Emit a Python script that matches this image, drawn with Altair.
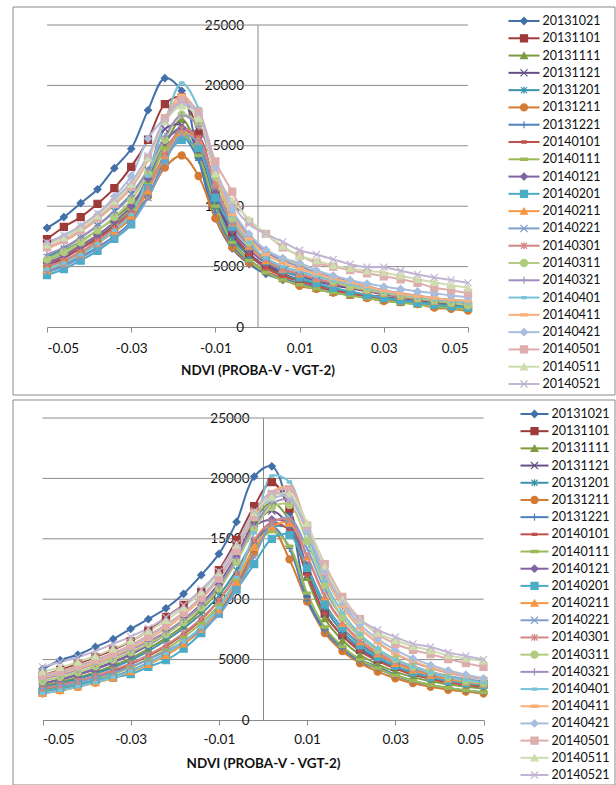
import altair as alt
import pandas as pd

FONT = "Lato"
GRAY = "#8a8a8a"
TXT = "#111111"

ndvi = [-0.05, -0.046, -0.042, -0.038, -0.034, -0.03, -0.026, -0.022, -0.018, -0.014,
        -0.01, -0.006, -0.002, 0.002, 0.006, 0.01, 0.014, 0.018, 0.022, 0.026,
        0.03, 0.034, 0.038, 0.042, 0.046, 0.05]
x_ticks = [-0.05, -0.03, -0.01, 0.01, 0.03, 0.05]
y_ticks = [0, 5000, 10000, 15000, 20000, 25000]
grid_vals = [5000, 10000, 15000, 20000, 25000]

dates = ["20131021", "20131101", "20131111", "20131121", "20131201", "20131211",
         "20131221", "20140101", "20140111", "20140121", "20140201", "20140211",
         "20140221", "20140301", "20140311", "20140321", "20140401", "20140411",
         "20140421", "20140501", "20140511", "20140521"]

# ---- top panel ----
top_20131021 = [8200, 9100, 10250, 11400, 13150, 14750, 17950, 20600, 19550, 14000, 9000, 6500, 5200, 4400, 3900, 3500, 3150, 2850, 2650, 2450, 2300, 2100, 1950, 1800, 1700, 1600]
top_20131101 = [7280, 8280, 9100, 10200, 11500, 13250, 15500, 18450, 19000, 16000, 11000, 7800, 6100, 5000, 4400, 3900, 3450, 3100, 2850, 2650, 2500, 2300, 2150, 2000, 1850, 1750]
top_20131111 = [5600, 6300, 7100, 8000, 9000, 10200, 12000, 15000, 17200, 14500, 10000, 7100, 5600, 4600, 4000, 3600, 3200, 2900, 2650, 2450, 2250, 2050, 1900, 1750, 1650, 1550]
top_20131121 = [5000, 5700, 6500, 7400, 8500, 9800, 12500, 16400, 16700, 14500, 10500, 7600, 6000, 5100, 4600, 4200, 3800, 3450, 3200, 2950, 2700, 2500, 2300, 2150, 2000, 1900]
top_20131201 = [5800, 6500, 7400, 8400, 9600, 11000, 13000, 15500, 16200, 14000, 10000, 7300, 5900, 4900, 4300, 3900, 3500, 3150, 2900, 2650, 2450, 2250, 2100, 1950, 1800, 1700]
top_20131211 = [5000, 5500, 6200, 7000, 7900, 9000, 10800, 13200, 14200, 12500, 9000, 6600, 5300, 4600, 4000, 3400, 3150, 2850, 2650, 2400, 2150, 2050, 1900, 1600, 1500, 1350]
top_20131221 = [4600, 5100, 5800, 6600, 7500, 8700, 10800, 13800, 15800, 13800, 9500, 6800, 5400, 4500, 4000, 3600, 3250, 2950, 2700, 2500, 2300, 2100, 1950, 1800, 1700, 1650]
top_20140101 = [5200, 5800, 6500, 7300, 8300, 9500, 11500, 14300, 16300, 15800, 11500, 8000, 6000, 4900, 4200, 3800, 3400, 3050, 2800, 2550, 2350, 2150, 2000, 1850, 1700, 1600]
top_20140111 = [5500, 6100, 6800, 7600, 8600, 9800, 11800, 14800, 16000, 14200, 10000, 7000, 5500, 4500, 3900, 3500, 3150, 2850, 2600, 2400, 2200, 2000, 1850, 1700, 1550, 1450]
top_20140121 = [5300, 5900, 6700, 7600, 8700, 10000, 12300, 15300, 16500, 15000, 11000, 8000, 6400, 5300, 4700, 4300, 3900, 3550, 3300, 3000, 2750, 2550, 2400, 2200, 2050, 1950]
top_20140201 = [4300, 4800, 5500, 6300, 7300, 8500, 11500, 13900, 15500, 14800, 10700, 8300, 6700, 5500, 4700, 4100, 3650, 3250, 2950, 2650, 2400, 2200, 2000, 1850, 1700, 1600]
top_20140211 = [4700, 5300, 6000, 6900, 7900, 9200, 11300, 14200, 16100, 15400, 11800, 8600, 6700, 5500, 4800, 4400, 4000, 3650, 3350, 3050, 2800, 2550, 2350, 2150, 2000, 1850]
top_20140221 = [4500, 5000, 5700, 6500, 7400, 8600, 10700, 13600, 15900, 15300, 11500, 8500, 6800, 5700, 5000, 4600, 4200, 3850, 3550, 3250, 3000, 2800, 2600, 2400, 2250, 2150]
top_20140301 = [5000, 5500, 6200, 7100, 8100, 9400, 11500, 14300, 16400, 15600, 11800, 8700, 6800, 5600, 4800, 4400, 4000, 3650, 3350, 3050, 2800, 2550, 2350, 2150, 2000, 1900]
top_20140311 = [5600, 6200, 7000, 8000, 9100, 10500, 12700, 15500, 17600, 16800, 12500, 9000, 7000, 6200, 5600, 5200, 4400, 3800, 3350, 3100, 2850, 2600, 2400, 2200, 2000, 1800]
top_20140321 = [6000, 6600, 7400, 8400, 9500, 10900, 13000, 15800, 17500, 16600, 12800, 9500, 7500, 6200, 5500, 5000, 4500, 4100, 3750, 3400, 3050, 2800, 2550, 2350, 2200, 2100]
top_20140401 = [4800, 5300, 6000, 6900, 8000, 9300, 12500, 17000, 20200, 18100, 13000, 9200, 7000, 5700, 5000, 4600, 4200, 3850, 3550, 3250, 2900, 2700, 2500, 2300, 2150, 2000]
top_20140411 = [6500, 7100, 7900, 8900, 10100, 11500, 13800, 17200, 19200, 17500, 12800, 9300, 7300, 6000, 5300, 4800, 4400, 4000, 3700, 3350, 3000, 2750, 2550, 2400, 2250, 2150]
top_20140421 = [6900, 7500, 8300, 9300, 10800, 12500, 15600, 17300, 18500, 17600, 13200, 9700, 7700, 6400, 5700, 5300, 4700, 4250, 3900, 3600, 3350, 3150, 2950, 2800, 2600, 2450]
top_20140501 = [6600, 7200, 8000, 9000, 10200, 11600, 14000, 17300, 18800, 17800, 13700, 11200, 8700, 7700, 6600, 5900, 5300, 5000, 4700, 4450, 4200, 3950, 3650, 3250, 3050, 2800]
top_20140511 = [6800, 7400, 8200, 9200, 10400, 11800, 14000, 17000, 18300, 17300, 12700, 10500, 8900, 7700, 6700, 5900, 5500, 5100, 4850, 4650, 4500, 4250, 3950, 3700, 3450, 3250]
top_20140521 = [7000, 7600, 8400, 9400, 10600, 12000, 14200, 17100, 18600, 17600, 13000, 10200, 8500, 7700, 7050, 6350, 6000, 5600, 5200, 4950, 4950, 4650, 4350, 4100, 3900, 3650]

# ---- bottom panel ----
bot_20131021 = [4200, 4950, 5400, 6050, 6700, 7550, 8350, 9250, 10450, 12000, 13750, 16400, 20150, 21000, 17200, 10200, 7500, 6000, 5000, 4400, 3750, 3250, 2900, 2600, 2400, 2200]
bot_20131101 = [3700, 4150, 4650, 5200, 5800, 6500, 7400, 8530, 9520, 10600, 12400, 14900, 17700, 19700, 17500, 12300, 8800, 7000, 5800, 5000, 4400, 3900, 3550, 3300, 3100, 2950]
bot_20131111 = [2800, 3150, 3500, 3950, 4500, 5100, 5900, 6800, 7800, 9100, 10800, 13300, 16500, 18000, 16500, 11800, 8400, 6600, 5400, 4600, 4000, 3550, 3200, 2950, 2750, 2600]
bot_20131121 = [3000, 3350, 3750, 4250, 4800, 5450, 6250, 7200, 8300, 9600, 11300, 13600, 16200, 17300, 16000, 12000, 8800, 7000, 5800, 5000, 4400, 3950, 3600, 3350, 3150, 3000]
bot_20131201 = [2700, 3000, 3400, 3850, 4350, 4950, 5700, 6600, 7600, 8800, 10300, 12400, 14800, 16000, 15800, 12500, 9300, 7300, 6000, 5100, 4400, 3900, 3500, 3200, 3000, 2850]
bot_20131211 = [2200, 2450, 2750, 3100, 3500, 4000, 4650, 5400, 6300, 7400, 8900, 11000, 13800, 15800, 13300, 9800, 7200, 5700, 4700, 4000, 3450, 3050, 2750, 2500, 2350, 2200]
bot_20131221 = [2300, 2550, 2850, 3200, 3600, 4100, 4750, 5500, 6400, 7500, 9000, 11200, 14200, 16000, 14200, 9900, 7400, 5900, 4850, 4250, 3650, 3200, 2900, 2650, 2450, 2300]
bot_20140101 = [2500, 2800, 3150, 3550, 4000, 4600, 5300, 6100, 7100, 8300, 9900, 12000, 14800, 16300, 15700, 12000, 8800, 7000, 5700, 4900, 4250, 3750, 3400, 3100, 2900, 2750]
bot_20140111 = [2400, 2650, 2950, 3350, 3800, 4350, 5050, 5850, 6850, 8000, 9500, 11600, 14200, 15600, 14400, 10500, 7700, 6100, 5000, 4300, 3700, 3250, 2900, 2650, 2450, 2300]
bot_20140121 = [3000, 3350, 3750, 4200, 4750, 5400, 6200, 7100, 8200, 9500, 11200, 13500, 16000, 16600, 16200, 12800, 9600, 7600, 6300, 5400, 4700, 4200, 3800, 3500, 3300, 3100]
bot_20140201 = [2350, 2650, 2950, 3300, 3500, 3800, 4400, 4950, 5900, 7200, 8800, 10800, 12900, 15000, 15300, 12600, 9600, 7600, 6200, 5200, 4500, 3950, 3550, 3250, 3050, 2900]
bot_20140211 = [2200, 2450, 2750, 3100, 3500, 4000, 4600, 5350, 6300, 7500, 9100, 11400, 14300, 16000, 16300, 13500, 10200, 8000, 6500, 5500, 4700, 4150, 3700, 3400, 3150, 3000]
bot_20140221 = [2600, 2850, 3150, 3500, 3900, 4400, 5000, 5700, 6500, 7500, 8700, 10800, 13500, 16200, 16700, 14200, 10800, 8500, 6900, 5800, 5000, 4450, 4000, 3650, 3400, 3200]
bot_20140301 = [2600, 2900, 3250, 3650, 4150, 4700, 5400, 6200, 7200, 8400, 9900, 12100, 14900, 16400, 16500, 13600, 10300, 8100, 6600, 5600, 4800, 4250, 3800, 3500, 3250, 3050]
bot_20140311 = [3200, 3550, 3950, 4450, 5000, 5600, 6300, 7100, 8100, 9300, 10900, 13100, 15800, 17600, 17800, 14800, 11200, 8500, 7000, 5800, 5050, 4400, 3970, 3560, 3230, 3060]
bot_20140321 = [3400, 3750, 4150, 4650, 5200, 5800, 6500, 7300, 8300, 9500, 11100, 13400, 16100, 17900, 18200, 15600, 12000, 9400, 7600, 6400, 5500, 4800, 4300, 3900, 3600, 3400]
bot_20140401 = [2200, 2450, 2750, 3100, 3550, 4050, 4700, 5500, 6500, 7700, 9300, 11800, 15500, 20200, 19700, 15500, 11500, 8900, 7100, 5900, 5000, 4400, 3900, 3550, 3300, 3100]
bot_20140411 = [3500, 3850, 4250, 4750, 5300, 5950, 6700, 7600, 8700, 10000, 11700, 14200, 17300, 18900, 19300, 16000, 12100, 9400, 7600, 6400, 5500, 4850, 4350, 3950, 3650, 3450]
bot_20140421 = [3600, 3950, 4400, 4900, 5450, 6100, 6900, 7800, 8900, 10200, 11900, 14300, 17000, 18300, 18500, 15700, 12300, 9700, 7900, 6700, 5800, 5100, 4550, 4100, 3750, 3450]
bot_20140501 = [3700, 4050, 4500, 5000, 5550, 6200, 7000, 7900, 8900, 10100, 11700, 14000, 16800, 18700, 19100, 16100, 12900, 10200, 8360, 7100, 6300, 5800, 5450, 5050, 4700, 4400]
bot_20140511 = [4000, 4350, 4800, 5300, 5900, 6550, 7350, 8250, 9300, 10600, 12200, 14500, 17200, 18500, 18700, 16300, 12700, 10000, 8300, 7200, 6600, 6100, 5750, 5350, 5100, 4900]
bot_20140521 = [4400, 4800, 5200, 5700, 6300, 6900, 7600, 8500, 9500, 10800, 12300, 14600, 17300, 18800, 18300, 15700, 12300, 9800, 8300, 7450, 6870, 6300, 6050, 5600, 5300, 5000]

top_series = [top_20131021, top_20131101, top_20131111, top_20131121, top_20131201, top_20131211,
              top_20131221, top_20140101, top_20140111, top_20140121, top_20140201, top_20140211,
              top_20140221, top_20140301, top_20140311, top_20140321, top_20140401, top_20140411,
              top_20140421, top_20140501, top_20140511, top_20140521]
bot_series = [bot_20131021, bot_20131101, bot_20131111, bot_20131121, bot_20131201, bot_20131211,
              bot_20131221, bot_20140101, bot_20140111, bot_20140121, bot_20140201, bot_20140211,
              bot_20140221, bot_20140301, bot_20140311, bot_20140321, bot_20140401, bot_20140411,
              bot_20140421, bot_20140501, bot_20140511, bot_20140521]

colors = ["#4270A9", "#9E3A38", "#7E9B40", "#674F87", "#3A93AB", "#D47A32",
          "#4F81BD", "#C0504D", "#9BBB59", "#8064A2", "#4BACC6", "#F79646",
          "#7F9FCE", "#D28583", "#B1CB7F", "#A08FBE", "#78C3D8", "#F9B07A",
          "#A7BEDE", "#DDAEAD", "#CDDDAE", "#C0B5D3"]

P_X = "M-1,-1L1,1M-1,1L1,-1"
P_STAR = "M-0.85,-0.85L0.85,0.85M-0.85,0.85L0.85,-0.85M0,-1L0,1"
P_PLUS = "M0,-1L0,1M-1,0L1,0"
P_SDASH = "M-0.6,-0.3L0.6,-0.3L0.6,0.3L-0.6,0.3Z"
P_LDASH = "M-1,-0.3L1,-0.3L1,0.3L-1,0.3Z"
shapes = ["diamond", "square", "triangle-up", P_X, P_STAR, "circle", P_PLUS, P_SDASH, P_LDASH,
          "diamond", "square", "triangle-up", P_X, P_STAR, "circle", P_PLUS, P_SDASH, P_LDASH,
          "diamond", "square", "triangle-up", P_X]


def long_df(series_lists):
    rows = []
    for name, vals in zip(dates, series_lists):
        for xv, v in zip(ndvi, vals):
            rows.append({"date": name, "ndvi": xv, "count": v})
    return pd.DataFrame(rows)


grid_df = pd.DataFrame({"count": grid_vals,
                        "ndvi": [x_ticks[0]] * len(grid_vals),
                        "ndvi2": [x_ticks[-1]] * len(grid_vals)})
leg_df = pd.DataFrame({"date": dates, "row": list(range(len(dates)))})
frame_df = pd.DataFrame({"k": [0]})

color_scale = alt.Scale(domain=dates, range=colors)
shape_scale = alt.Scale(domain=dates, range=shapes)

MSIZE = 50


def panel(df, w, x_range, y_off, lab_pad, title_pad, lx1, lx2, ltx, leg_range, frame_y2):
    xs = alt.Scale(domain=[-0.05, 0.05], range=x_range, nice=False, zero=False)
    ys = alt.Scale(domain=[0, 25000], nice=False, zero=True)
    x_axis = alt.Axis(values=x_ticks, grid=False, domainColor=GRAY, tickColor=GRAY, tickSize=5,
                      labelExpr="datum.value < 0 ? '-' + format(-datum.value, '.2f') : format(datum.value, '.2f')",
                      labelPadding=lab_pad, labelFontSize=13.5, labelColor=TXT, labelFont=FONT,
                      title="NDVI (PROBA-V - VGT-2)", titlePadding=title_pad, titleFontSize=13.5,
                      titleFontWeight="bold", titleColor=TXT, titleFont=FONT)
    y_axis = alt.Axis(values=y_ticks, format="d", orient="left", offset=y_off, grid=False,
                      ticks=False, domainColor=GRAY, labelPadding=14, labelFontSize=13.5,
                      labelColor=TXT, labelFont=FONT, title="")
    X = alt.X("ndvi:Q", scale=xs, axis=x_axis)
    Y = alt.Y("count:Q", scale=ys, axis=y_axis)
    color = alt.Color("date:N", scale=color_scale, legend=None)
    stroke = alt.Stroke("date:N", scale=color_scale, legend=None)
    shape = alt.Shape("date:N", scale=shape_scale, legend=None)

    grid = alt.Chart(grid_df).mark_rule(color=GRAY, strokeWidth=1).encode(
        x=X, x2="ndvi2:Q", y=Y)
    lines = alt.Chart(df).mark_line(interpolate="catmull-rom", strokeWidth=2).encode(
        x=X, y=Y, color=color, detail="date:N")
    pts = alt.Chart(df).mark_point(filled=True, size=MSIZE, opacity=1, strokeWidth=1.2).encode(
        x=X, y=Y, color=color, stroke=stroke, shape=shape)
    data_layer = alt.layer(grid, lines, pts)

    LY = alt.Y("row:Q", scale=alt.Scale(domain=[0, 21], range=leg_range, nice=False, zero=False),
               axis=None)
    lrule = alt.Chart(leg_df).mark_rule(strokeWidth=2).encode(
        x=alt.value(lx1), x2=alt.value(lx2), y=LY, color=color)
    lpts = alt.Chart(leg_df).mark_point(filled=True, size=MSIZE, opacity=1, strokeWidth=1.2).encode(
        x=alt.value((lx1 + lx2) / 2), y=LY, color=color, stroke=stroke, shape=shape)
    ltxt = alt.Chart(leg_df).mark_text(align="left", baseline="middle", fontSize=12.5,
                                       font=FONT, color=TXT).encode(
        x=alt.value(ltx), y=LY, text="date:N")
    legend_layer = alt.layer(lrule, lpts, ltxt)

    frame = alt.Chart(frame_df).mark_rect(fill="transparent", stroke=GRAY, strokeWidth=1).encode(
        x=alt.value(-34), x2=alt.value(568), y=alt.value(-18), y2=alt.value(frame_y2))

    return alt.layer(data_layer, legend_layer, frame).resolve_scale(y="independent").properties(
        width=w, height=302)


top = panel(long_df(top_series), 421, [0, 421], -210.5, 9, 9,
            461.5, 492.5, 495.5, [-4, 359], 370)
bottom = panel(long_df(bot_series), 437, [-4.5, 436.5], -216, 7, 11,
               473.5, 501.5, 504.5, [-4, 357], 367)

chart = alt.vconcat(top, bottom, spacing=3).properties(
    padding={"left": 12, "top": 6, "right": 0, "bottom": 0},
    background="white",
).configure_view(stroke="transparent")

chart.save("out.html", embed_options={"renderer": "svg", "actions": False})
